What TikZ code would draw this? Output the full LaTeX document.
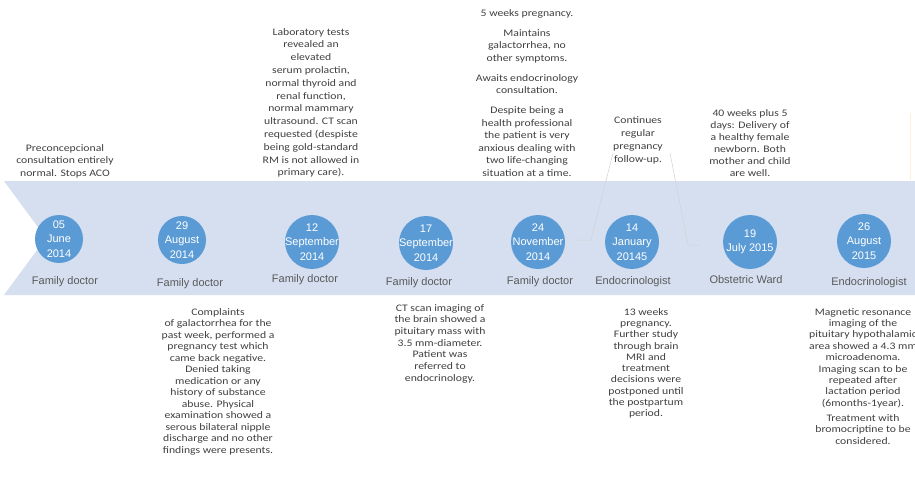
\documentclass[tikz,border=0pt]{standalone}
\usepackage{fontspec}
\newfontfamily\bodyfont[FakeStretch=1.17]{Carlito}
\newfontfamily\labfont{Liberation Sans}
\definecolor{band}{HTML}{D6DFF0}
\definecolor{dot}{HTML}{5B9BD5}
\definecolor{txt}{HTML}{404040}
\definecolor{lab}{HTML}{595959}
\definecolor{thin}{HTML}{D2D2D2}
\definecolor{faintyellow}{HTML}{FAF1D8}
\begin{document}
\begin{tikzpicture}[x=1pt,y=-1pt,
  body/.style={font=\bodyfont\fontsize{10}{#1}\selectfont, text=txt, align=center, inner sep=0pt, anchor=north},
  body/.default=12.5,
  dotc/.style={circle, fill=dot, minimum size=#1, inner sep=0pt},
  dtxt/.style={text=white, align=center, inner sep=0pt, font=\labfont\fontsize{11}{14.5}\selectfont},
  lbl/.style={font=\labfont\fontsize{11}{12}\selectfont, text=lab, inner sep=0pt},
  callout/.style={draw=thin, line width=0.5pt}
]
\useasboundingbox (0,0) rectangle (915,477);
\fill[white] (0,0) rectangle (915,477);
% band
\fill[band] (4,181) -- (915,181) -- (915,295) -- (4,295) -- (46,238) -- cycle;

% faint callout lines
\coordinate (ka) at (613,153);
\coordinate (kb) at (591,240);
\coordinate (kc) at (575,240);
\coordinate (kd) at (670,153);
\coordinate (ke) at (688,245);
\coordinate (kf) at (700,245);
\draw[callout] (ka) -- (kb) -- (kc);
\draw[callout] (kd) -- (ke) -- (kf);
\coordinate (ya) at (910,113);
\coordinate (yb) at (910,180);
\draw[draw=faintyellow, line width=1pt] (ya) -- (yb);

% circles
\node[dotc=48pt] (c1) at (59,239) {};
\node[dotc=48pt] (c2) at (182,240) {};
\node[dotc=54pt] (c3) at (312,242) {};
\node[dotc=54pt] (c4) at (426,243) {};
\node[dotc=54pt] (c5) at (538,242) {};
\node[dotc=54pt] (c6) at (632,242) {};
\node[dotc=54pt] (c7) at (750,242) {};
\node[dotc=54pt] (c8) at (864,241) {};

\node[dtxt] (d1) at (c1) {05\\June\\2014};
\node[dtxt] (d2) at (c2) {29\\August\\2014};
\node[dtxt] (d3) at (c3) {12\\September\\2014};
\node[dtxt] (d4) at (c4) {17\\September\\2014};
\node[dtxt] (d5) at (c5) {24\\November\\2014};
\node[dtxt] (d6) at (c6) {14\\January\\20145};
\node[dtxt] (d7) at (c7) {19\\July 2015};
\node[dtxt] (d8) at (c8) {26\\August\\2015};

% labels
\node[lbl] (l1) at (65,282) {Family doctor};
\node[lbl] (l2) at (190,284) {Family doctor};
\node[lbl] (l3) at (305,280) {Family doctor};
\node[lbl] (l4) at (419,283) {Family doctor};
\node[lbl] (l5) at (540,282) {Family doctor};
\node[lbl] (l6) at (633,282) {Endocrinologist};
\node[lbl] (l7) at (746,280) {Obstetric Ward};
\node[lbl] (l8) at (869,283) {Endocrinologist};

% top texts
\node[body=12.5] (t1) at (65,144) {Preconcepcional\\consultation entirely\\normal. Stops ACO};
\node[body=12.8] (t2) at (311,28) {Laboratory tests\\revealed an\\elevated\\serum prolactin,\\normal thyroid and\\renal function,\\normal mammary\\ultrasound. CT scan\\requested (despiste\\being gold-standard\\RM is not allowed in\\primary care).};
\node[body=12.5] (t3) at (527,9) {5 weeks pregnancy.\\[7.5pt]Maintains\\galactorrhea, no\\other symptoms.\\[7.5pt]Awaits endocrinology\\consultation.\\[7.5pt]Despite being a\\health professional\\the patient is very\\anxious dealing with\\two life-changing\\situation at a time.};
\node[body=13] (t4) at (638,116) {Continues\\regular\\pregnancy\\follow-up.};
\node[body=12] (t5) at (750,109) {40 weeks plus 5\\days: Delivery of\\a healthy female\\newborn. Both\\mother and child\\are well.};

% bottom texts
\node[body=11.5] (b2) at (218,308) {Complaints\\of galactorrhea for the\\past week, performed a\\pregnancy test which\\came back negative.\\Denied taking\\medication or any\\history of substance\\abuse. Physical\\examination showed a\\serous bilateral nipple\\discharge and no other\\findings were presents.};
\node[body=11.7] (b4) at (440,304) {CT scan imaging of\\the brain showed a\\pituitary mass with\\3.5 mm-diameter.\\Patient was\\referred to\\endocrinology.};
\node[body=11.3] (b6) at (646,308) {13 weeks\\pregnancy.\\Further study\\through brain\\MRI and\\treatment\\decisions were\\postponed until\\the postpartum\\period.};
\node[body=11.4] (b8) at (863,308) {Magnetic resonance\\imaging of the\\pituitary hypothalamic\\area showed a 4.3 mm\\microadenoma.\\Imaging scan to be\\repeated after\\lactation period\\(6months-1year).\\[3.5pt]Treatment with\\bromocriptine to be\\considered.};
\end{tikzpicture}
\end{document}
